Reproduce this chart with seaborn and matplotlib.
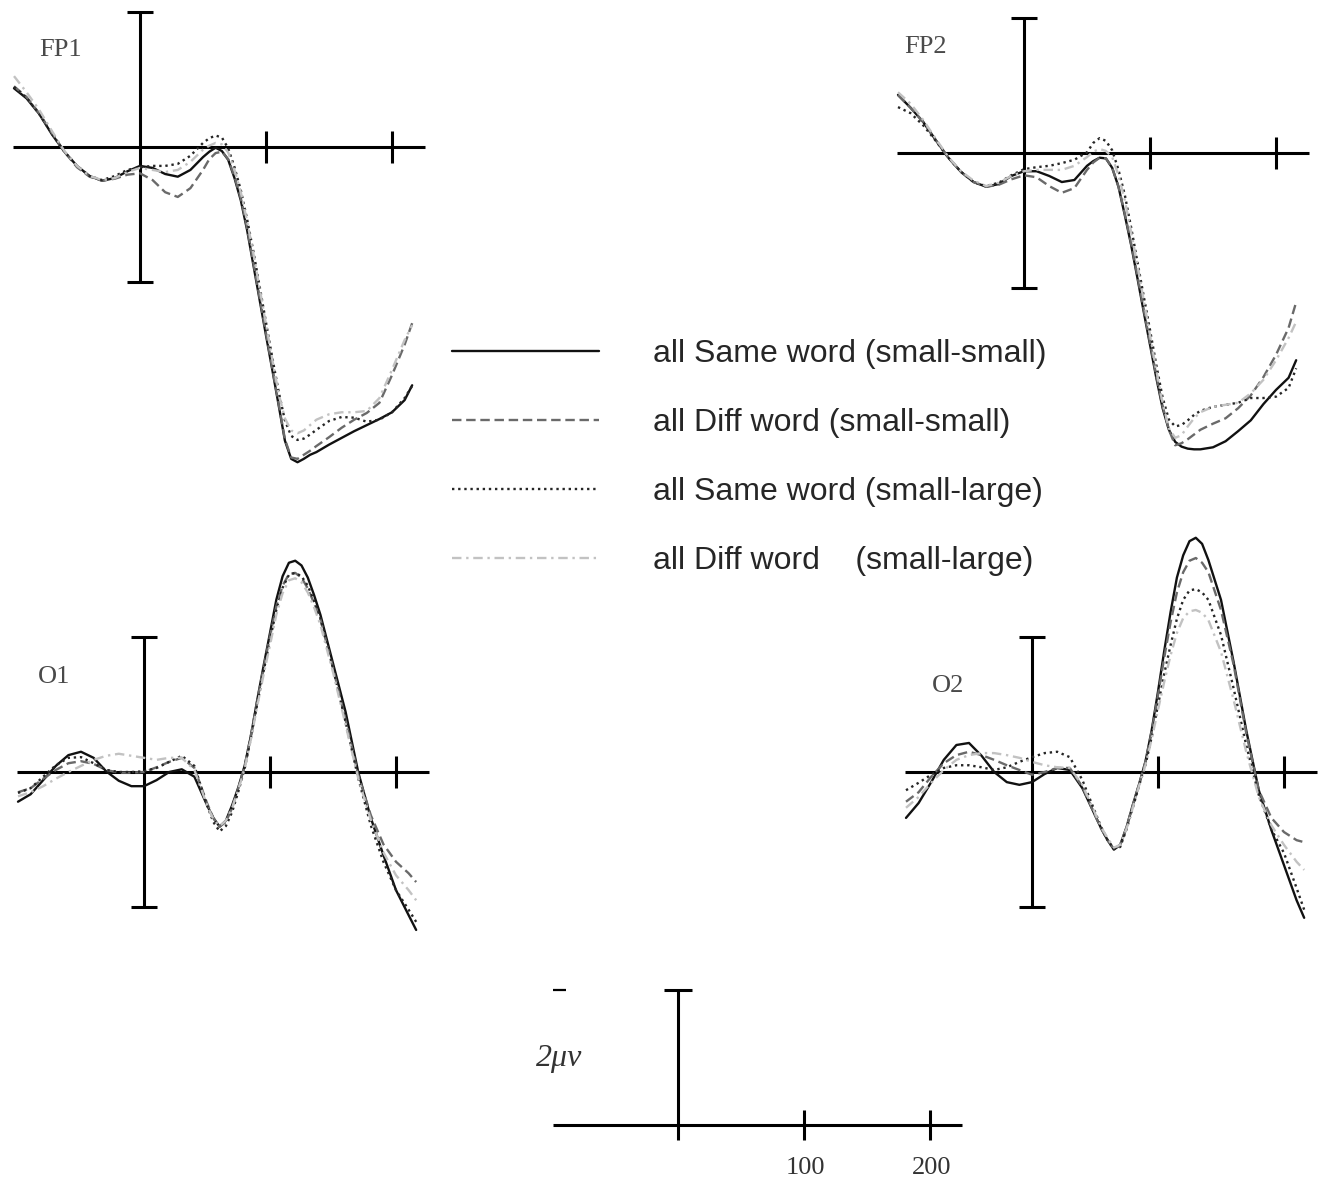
import numpy as np
import pandas as pd
import seaborn as sns
import matplotlib
matplotlib.use("Agg")
import matplotlib.pyplot as plt

# time points (ms) shared by all channels, denser where the waves bend
times = list(range(-100, 51, 10)) + list(range(55, 141, 5)) + list(range(150, 211, 10)) + [216]

conds = ["all Same word (small-small)",
         "all Diff word (small-small)",
         "all Same word (small-large)",
         "all Diff word    (small-large)"]

# amplitudes in microvolts
fp1_same_ss = [0.87, 0.72, 0.49, 0.19, -0.07, -0.28, -0.43, -0.50, -0.46, -0.36, -0.28, -0.31, -0.40, -0.44, -0.34, -0.15,
               -0.07, -0.01, -0.06, -0.19, -0.46, -0.79, -1.23, -1.75, -2.27, -2.79, -3.30, -3.82, -4.35, -4.62, -4.67, -4.62, -4.56, -4.52,
               -4.41, -4.31, -4.21, -4.12, -4.03, -3.93, -3.75, -3.53]
fp1_diff_ss = [0.90, 0.74, 0.50, 0.21, -0.07, -0.30, -0.44, -0.50, -0.47, -0.41, -0.39, -0.49, -0.67, -0.74, -0.61, -0.34,
               -0.18, -0.09, -0.07, -0.18, -0.44, -0.76, -1.20, -1.72, -2.24, -2.76, -3.28, -3.80, -4.33, -4.60, -4.62, -4.56, -4.50, -4.43,
               -4.30, -4.16, -4.04, -3.94, -3.79, -3.38, -2.93, -2.61]
fp1_same_sl = [0.89, 0.73, 0.49, 0.20, -0.07, -0.28, -0.43, -0.49, -0.43, -0.34, -0.30, -0.28, -0.28, -0.25, -0.13, 0.06,
               0.13, 0.17, 0.14, -0.02, -0.30, -0.64, -1.07, -1.55, -2.07, -2.60, -3.12, -3.62, -4.05, -4.28, -4.34, -4.32, -4.26, -4.19,
               -4.06, -4.00, -4.01, -4.07, -4.04, -3.93, -3.72, -3.54]
fp1_diff_sl = [1.05, 0.81, 0.55, 0.24, -0.06, -0.28, -0.43, -0.49, -0.46, -0.37, -0.31, -0.34, -0.37, -0.34, -0.22, -0.04,
               0.02, 0.06, 0.04, -0.08, -0.34, -0.67, -1.10, -1.58, -2.10, -2.63, -3.15, -3.65, -4.02, -4.20, -4.24, -4.20, -4.12, -4.04,
               -3.96, -3.93, -3.93, -3.91, -3.72, -3.30, -2.86, -2.64]

fp2_same_ss = [0.86, 0.67, 0.46, 0.19, -0.07, -0.28, -0.43, -0.50, -0.46, -0.34, -0.27, -0.27, -0.34, -0.43, -0.40, -0.19,
               -0.12, -0.07, -0.08, -0.22, -0.50, -0.92, -1.36, -1.85, -2.35, -2.84, -3.33, -3.78, -4.10, -4.28, -4.35, -4.38, -4.39, -4.39,
               -4.36, -4.27, -4.12, -3.96, -3.72, -3.51, -3.33, -3.07]
fp2_diff_ss = [0.86, 0.67, 0.46, 0.19, -0.07, -0.28, -0.43, -0.50, -0.47, -0.39, -0.33, -0.36, -0.49, -0.59, -0.52, -0.25,
               -0.14, -0.07, -0.08, -0.22, -0.50, -0.90, -1.34, -1.82, -2.32, -2.81, -3.30, -3.75, -4.10, -4.33, -4.30, -4.24, -4.17, -4.10,
               -4.01, -3.93, -3.78, -3.59, -3.32, -2.99, -2.59, -2.21]
fp2_same_sl = [0.68, 0.59, 0.41, 0.18, -0.07, -0.28, -0.43, -0.49, -0.44, -0.33, -0.24, -0.21, -0.19, -0.15, -0.10, 0.01,
               0.15, 0.22, 0.18, 0.04, -0.25, -0.62, -1.10, -1.61, -2.12, -2.62, -3.14, -3.62, -3.95, -4.05, -4.03, -3.96, -3.88, -3.82,
               -3.76, -3.73, -3.70, -3.63, -3.63, -3.61, -3.48, -3.19]
fp2_diff_sl = [0.90, 0.73, 0.49, 0.21, -0.06, -0.27, -0.41, -0.49, -0.44, -0.34, -0.27, -0.25, -0.25, -0.25, -0.19, -0.06,
               0.02, 0.06, 0.03, -0.06, -0.33, -0.70, -1.17, -1.66, -2.18, -2.70, -3.22, -3.70, -4.08, -4.22, -4.18, -4.05, -3.93, -3.84,
               -3.76, -3.73, -3.70, -3.56, -3.36, -3.07, -2.74, -2.50]

o1_same_ss = [-0.44, -0.33, -0.12, 0.09, 0.25, 0.30, 0.21, 0.01, -0.13, -0.21, -0.21, -0.12, 0.00, 0.04, -0.07, -0.49,
              -0.68, -0.81, -0.72, -0.49, -0.22, 0.10, 0.55, 1.08, 1.58, 2.06, 2.55, 2.90, 3.10, 3.13, 3.06, 2.88, 2.62, 2.33,
              1.61, 0.89, 0.00, -0.68, -1.23, -1.75, -2.12, -2.34]
o1_diff_ss = [-0.30, -0.24, -0.10, 0.03, 0.13, 0.16, 0.12, 0.03, -0.01, -0.01, 0.00, 0.07, 0.15, 0.21, 0.06, -0.46,
              -0.68, -0.81, -0.74, -0.53, -0.23, 0.10, 0.56, 1.07, 1.55, 2.01, 2.45, 2.76, 2.93, 2.95, 2.88, 2.72, 2.50, 2.26,
              1.54, 0.77, -0.04, -0.64, -1.07, -1.33, -1.50, -1.63]
o1_same_sl = [-0.31, -0.24, -0.07, 0.10, 0.21, 0.22, 0.13, 0.03, 0.00, 0.00, 0.01, 0.06, 0.15, 0.24, 0.09, -0.49,
              -0.74, -0.88, -0.80, -0.59, -0.28, 0.06, 0.52, 1.02, 1.50, 1.96, 2.40, 2.73, 2.92, 2.95, 2.90, 2.76, 2.53, 2.28,
              1.54, 0.74, -0.09, -0.79, -1.33, -1.75, -2.04, -2.22]
o1_diff_sl = [-0.36, -0.30, -0.21, -0.10, 0.00, 0.09, 0.18, 0.24, 0.27, 0.24, 0.21, 0.18, 0.21, 0.21, 0.03, -0.49,
              -0.70, -0.80, -0.72, -0.53, -0.25, 0.06, 0.50, 0.99, 1.45, 1.88, 2.33, 2.65, 2.84, 2.87, 2.81, 2.66, 2.44, 2.18,
              1.48, 0.70, -0.09, -0.71, -1.19, -1.53, -1.75, -1.90]

o2_same_ss = [-0.68, -0.46, -0.15, 0.18, 0.40, 0.43, 0.24, 0.00, -0.15, -0.19, -0.15, -0.03, 0.06, 0.03, -0.24, -0.64,
              -0.84, -1.01, -1.15, -1.08, -0.82, -0.49, -0.18, 0.15, 0.62, 1.19, 1.80, 2.37, 2.88, 3.21, 3.42, 3.47, 3.38, 3.14,
              2.55, 1.63, 0.62, -0.27, -0.86, -1.38, -1.90, -2.16]
o2_diff_ss = [-0.44, -0.30, -0.07, 0.13, 0.25, 0.30, 0.25, 0.18, 0.10, 0.03, -0.04, 0.00, 0.06, 0.06, -0.22, -0.64,
              -0.84, -1.01, -1.14, -1.08, -0.82, -0.49, -0.18, 0.15, 0.60, 1.14, 1.70, 2.22, 2.66, 2.96, 3.13, 3.17, 3.10, 2.96,
              2.40, 1.59, 0.58, -0.27, -0.68, -0.89, -1.01, -1.04]
o2_same_sl = [-0.27, -0.16, -0.04, 0.06, 0.10, 0.10, 0.07, 0.03, 0.07, 0.15, 0.22, 0.28, 0.30, 0.22, -0.12, -0.59,
              -0.82, -1.01, -1.14, -1.11, -0.85, -0.53, -0.20, 0.10, 0.52, 0.99, 1.46, 1.88, 2.27, 2.55, 2.69, 2.71, 2.66, 2.55,
              2.03, 1.24, 0.40, -0.34, -0.85, -1.20, -1.72, -2.04]
o2_diff_sl = [-0.53, -0.37, -0.16, 0.03, 0.18, 0.25, 0.28, 0.28, 0.25, 0.21, 0.15, 0.10, 0.07, 0.06, -0.19, -0.61,
              -0.82, -0.98, -1.12, -1.08, -0.84, -0.53, -0.20, 0.10, 0.49, 0.92, 1.34, 1.73, 2.06, 2.28, 2.38, 2.40, 2.36, 2.25,
              1.78, 1.07, 0.30, -0.37, -0.79, -1.08, -1.33, -1.45]

channels = {
    "FP1": [fp1_same_ss, fp1_diff_ss, fp1_same_sl, fp1_diff_sl],
    "FP2": [fp2_same_ss, fp2_diff_ss, fp2_same_sl, fp2_diff_sl],
    "O1": [o1_same_ss, o1_diff_ss, o1_same_sl, o1_diff_sl],
    "O2": [o2_same_ss, o2_diff_ss, o2_same_sl, o2_diff_sl],
}

rows = []
for ch, series in channels.items():
    for cond, vals in zip(conds, series):
        rows.append(pd.DataFrame({"time": times, "uv": vals, "cond": cond, "channel": ch}))
df = pd.concat(rows, ignore_index=True)

colors = dict(zip(conds, ["#111111", "#6a6a6a", "#262626", "#c2c2c2"]))
dash_map = dict(zip(conds, ["", (4, 2), (1, 1.6), (4, 2, 1, 2)]))

sns.set_style("white")

W, H = 1326, 1185
PX_MS, PX_UV = 1.26, 67.5  # pixels per ms and per microvolt in the original
fig = plt.figure(figsize=(W / 100, H / 100), dpi=100)


def make_axes(box, origin):
    x0, y0, x1, y1 = box
    ox, oy = origin
    ax = fig.add_axes([x0 / W, 1 - y1 / H, (x1 - x0) / W, (y1 - y0) / H])
    ax.set_xlim((x0 - ox) / PX_MS, (x1 - ox) / PX_MS)
    ax.set_ylim((oy - y1) / PX_UV, (oy - y0) / PX_UV)
    ax.axis("off")
    return ax


def draw_cross(ax):
    kw = dict(color="black", lw=2.2, zorder=1)
    ax.hlines(0, -101, 226, **kw)
    ax.vlines(0, -2, 2, **kw)
    ax.hlines([-2, 2], -10, 10, **kw)
    ax.vlines([100, 200], -0.23, 0.23, **kw)


# box in pixels, origin of the cross in pixels, label position in data coords
layout = {
    "FP1": ((0, 0, 440, 480), (140, 147), (-63, 1.44)),
    "FP2": ((880, 0, 1326, 480), (1024, 153), (-78, 1.57)),
    "O1": ((0, 520, 440, 950), (144, 772), (-71, 1.41)),
    "O2": ((880, 520, 1326, 950), (1032, 772), (-67, 1.27)),
}

handles = None
for ch, (box, origin, lab) in layout.items():
    ax = make_axes(box, origin)
    sub = df[df["channel"] == ch]
    sns.lineplot(data=sub, x="time", y="uv", hue="cond", style="cond",
                 hue_order=conds, style_order=conds, palette=colors,
                 dashes=dash_map, linewidth=1.7, estimator=None, sort=False,
                 legend=False, ax=ax)
    if handles is None:
        handles = ax.get_lines()[:4]
    draw_cross(ax)
    ax.text(lab[0], lab[1], ch, ha="center", va="center", fontsize=19,
            family="Liberation Serif", color="#4a4a4a")

fig.legend(handles, conds, loc="upper left", bbox_to_anchor=(452 / W, 1 - 339 / H),
           frameon=False, borderpad=0, borderaxespad=0, handlelength=4.6,
           handletextpad=1.7, labelspacing=1.22,
           prop={"family": "Liberation Sans", "size": 23})

# scale bar
sax = make_axes((500, 970, 1000, 1185), (678, 1125))
kw = dict(color="black", lw=2.2)
sax.hlines(0, -99, 225, **kw)
sax.vlines(0, -0.22, 2, **kw)
sax.hlines(2, -11, 11, **kw)
sax.vlines([100, 200], -0.22, 0.22, **kw)
sax.hlines(2, -99, -89, color="black", lw=1.6)
sax.text(-94, 0.99, "2μv", ha="center", va="center", fontsize=23,
         family="Liberation Serif", style="italic", color="#333333")
for t in [100, 200]:
    sax.text(t + 1, -0.64, str(t), ha="center", va="center", fontsize=19,
             family="Liberation Serif", color="#333333")

fig.savefig("out.png", dpi=100)
